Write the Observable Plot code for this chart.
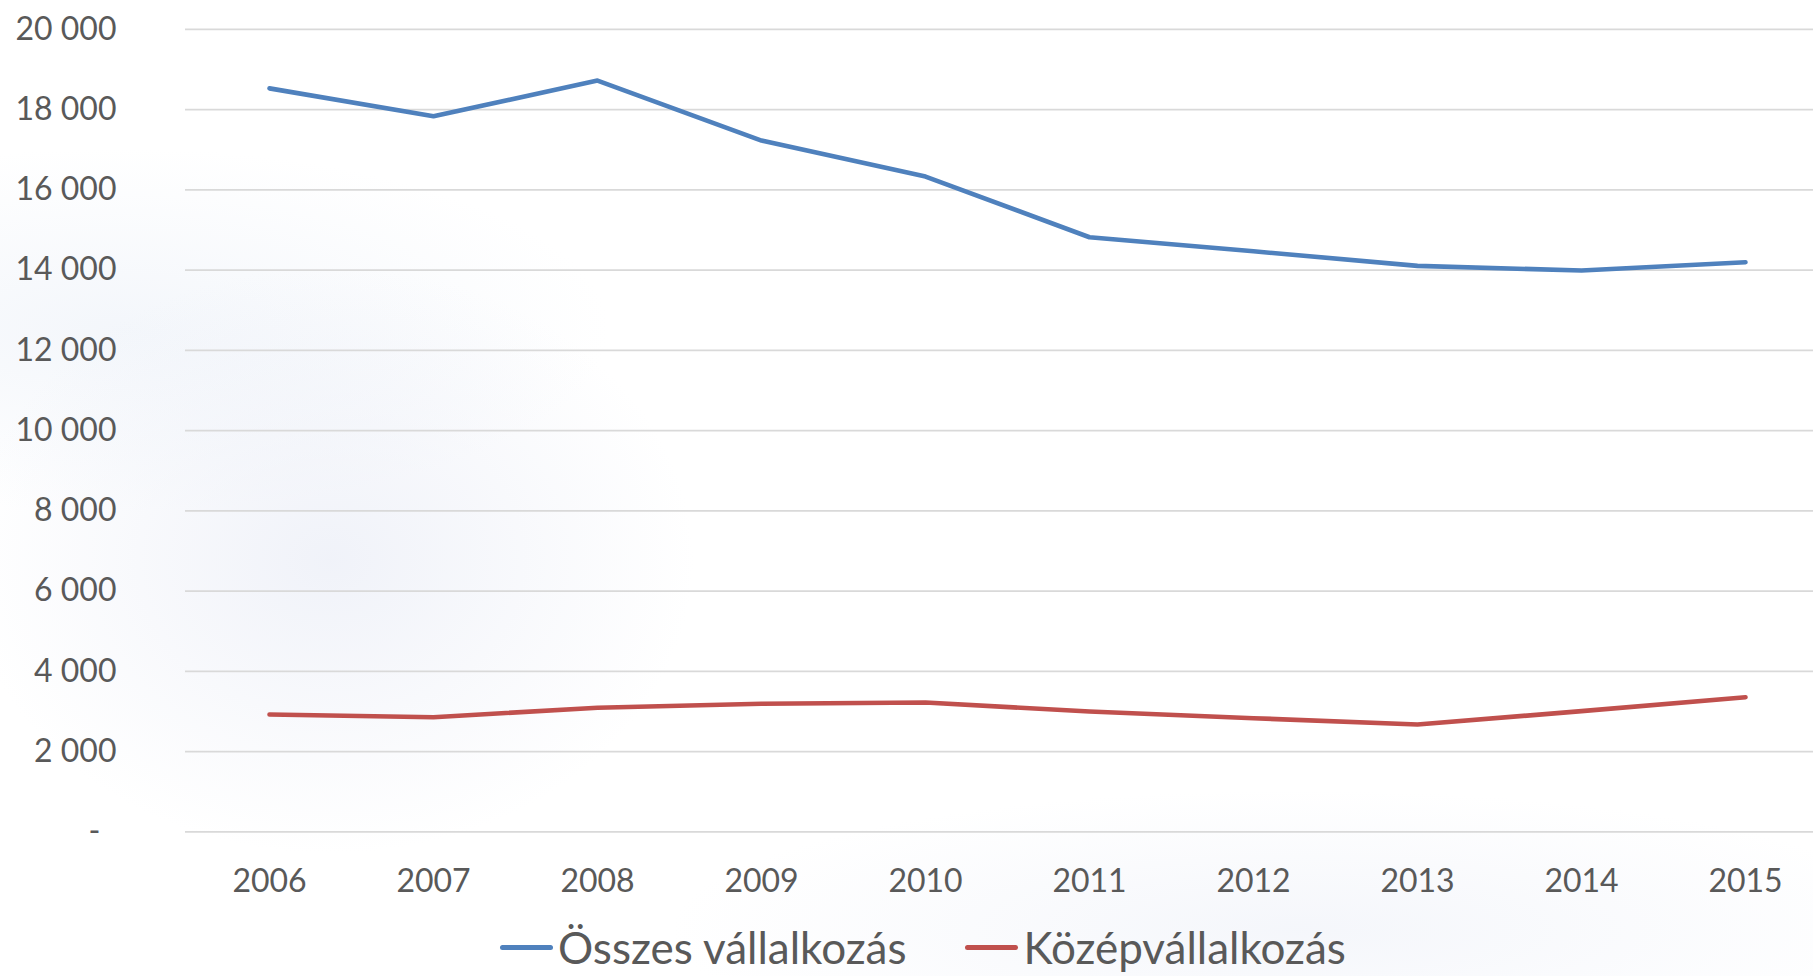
<!DOCTYPE html>
<html>
<head>
<meta charset="utf-8">
<script src="https://cdn.jsdelivr.net/npm/d3@7"></script>
<script src="https://cdn.jsdelivr.net/npm/@observablehq/plot@0.6"></script>
<style>
  html, body { margin: 0; padding: 0; background: #ffffff; }
  #wrap { position: relative; width: 1813px; height: 976px; overflow: hidden; font-family: Lato, "Noto Sans", sans-serif;
    background:
      radial-gradient(ellipse 520px 420px at 330px 560px, rgba(228,232,244,0.55), rgba(255,255,255,0) 70%),
      radial-gradient(ellipse 700px 260px at 120px 330px, rgba(232,238,247,0.5), rgba(255,255,255,0) 70%),
      radial-gradient(ellipse 900px 200px at 1300px 930px, rgba(232,236,246,0.45), rgba(255,255,255,0) 70%),
      #ffffff; }
  #chart { position: absolute; left: 0; top: 0; }
  #legend { position: absolute; left: 500px; top: 925px; display: flex; align-items: center; color: #595959; font-size: 44px; line-height: 44px; height: 44px; white-space: nowrap; }
  .item { display: flex; align-items: center; }
  .swatch { width: 53px; height: 5px; border-radius: 3px; margin-right: 5px; }
</style>
</head>
<body>
<div id="wrap">
  <div id="chart"></div>
  <div id="legend"></div>
</div>
<script>
const years = [2006, 2007, 2008, 2009, 2010, 2011, 2012, 2013, 2014, 2015];
const osszesVallalkozas = [18530, 17835, 18725, 17230, 16333, 14820, 14470, 14107, 13990, 14197];
const kozepVallalkozas = [2926, 2859, 3093, 3192, 3225, 3000, 2834, 2676, 3010, 3357];
const seriesNames = ["Összes vállalkozás", "Középvállalkozás"];
const seriesColors = ["#4f81bd", "#c0504d"];
const yTicks = [0, 2000, 4000, 6000, 8000, 10000, 12000, 14000, 16000, 18000, 20000];

const rows = [];
years.forEach((yr, i) => {
  rows.push({year: yr, value: osszesVallalkozas[i], series: seriesNames[0]});
  rows.push({year: yr, value: kozepVallalkozas[i], series: seriesNames[1]});
});

const fmt = d => d === 0 ? "-\u2002" : d3.format(",")(d).replace(/,/g, " ");

const chart = Plot.plot({
  width: 1813,
  height: 915,
  marginLeft: 185,
  marginRight: 0,
  marginTop: 28.9,
  marginBottom: 83.6,
  style: {background: "transparent", fontFamily: "Lato, 'Noto Sans', sans-serif", color: "#595959", overflow: "visible"},
  x: {type: "point", domain: years, range: [267, 1746], padding: 0},
  y: {domain: [0, 20000], range: [831.4, 28.9]},
  color: {domain: seriesNames, range: seriesColors},
  marks: [
    Plot.gridY(yTicks, {stroke: "#d9d9d9", strokeOpacity: 1, strokeWidth: 1.6}),
    Plot.axisY(yTicks, {tickSize: 0, tickPadding: 69, tickFormat: fmt, fontSize: 32, fill: "#595959", label: null}),
    Plot.axisX(years, {tickSize: 0, tickPadding: 37, tickFormat: d => String(d), fontSize: 32, fill: "#595959", label: null}),
    Plot.line(rows, {x: "year", y: "value", z: "series", stroke: "series", strokeWidth: 4.6, strokeLinecap: "round", strokeLinejoin: "round"})
  ]
});
document.getElementById("chart").appendChild(chart);

const legend = document.getElementById("legend");
seriesNames.forEach((name, i) => {
  const item = document.createElement("div");
  item.className = "item";
  if (i > 0) item.style.marginLeft = "59px";
  const sw = document.createElement("div");
  sw.className = "swatch";
  sw.style.background = seriesColors[i];
  const label = document.createElement("span");
  label.textContent = name;
  item.appendChild(sw);
  item.appendChild(label);
  legend.appendChild(item);
});
</script>
</body>
</html>
